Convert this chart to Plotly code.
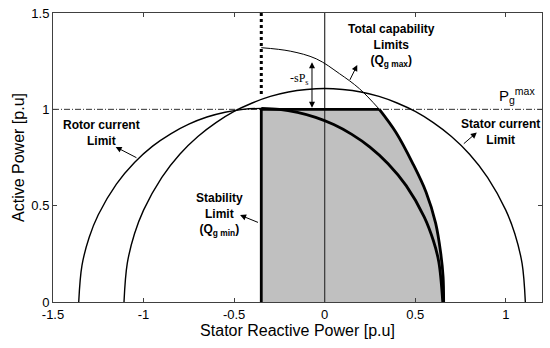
import plotly.graph_objects as go

# Values (Q = stator reactive power, P = active power, p.u.)
stator_q = [-1.108, -1.09, -1.05, -1.0, -0.9, -0.8, -0.7, -0.6, -0.5, -0.4, -0.3, -0.2, -0.1, 0.0,
            0.1, 0.2, 0.3, 0.4, 0.5, 0.6, 0.7, 0.8, 0.9, 1.0, 1.05, 1.09, 1.108]
stator_p = [0.0, 0.2, 0.354, 0.477, 0.646, 0.767, 0.859, 0.931, 0.989, 1.033, 1.067, 1.09, 1.103, 1.108,
            1.103, 1.09, 1.067, 1.033, 0.989, 0.931, 0.859, 0.767, 0.646, 0.477, 0.354, 0.2, 0.0]

rotor_left_q = [-1.358, -1.34, -1.3, -1.25, -1.15, -1.05, -0.95, -0.85, -0.75, -0.65, -0.55, -0.45, -0.35]
rotor_left_p = [0.0, 0.19, 0.336, 0.453, 0.612, 0.724, 0.809, 0.873, 0.923, 0.96, 0.985, 1.0, 1.005]
rotor_right_q = [-0.35, -0.25, -0.15, -0.05, 0.05, 0.15, 0.25, 0.35, 0.45, 0.55, 0.6, 0.63, 0.652]
rotor_right_p = [1.005, 1.0, 0.984, 0.958, 0.921, 0.87, 0.804, 0.718, 0.604, 0.441, 0.319, 0.209, 0.0]

cap_top_q = [-0.35, -0.19, -0.046, 0.082, 0.192, 0.302]
cap_top_p = [1.32, 1.302, 1.262, 1.185, 1.107, 1.0]
cap_low_q = [0.302, 0.394, 0.486, 0.56, 0.613, 0.641, 0.654, 0.657]
cap_low_p = [1.0, 0.88, 0.72, 0.57, 0.408, 0.252, 0.131, 0.0]

q_min = -0.35
p_max = 1.0
x_ticks = [-1.5, -1, -0.5, 0, 0.5, 1]
y_ticks = [0, 0.5, 1, 1.5]

fig = go.Figure()

# shaded operating region
fill_q = [q_min] + cap_low_q + [q_min]
fill_p = [p_max] + cap_low_p + [0.0]
fig.add_trace(go.Scatter(x=fill_q, y=fill_p, fill="toself", fillcolor="#c0c0c0",
                         line=dict(width=0), mode="lines", hoverinfo="skip"))

# Q = 0 axis line
fig.add_trace(go.Scatter(x=[0, 0], y=[0, 1.5], mode="lines", line=dict(color="#404040", width=1.3)))
# P max dash-dot line
fig.add_trace(go.Scatter(x=[-1.5, 1.2], y=[p_max, p_max], mode="lines",
                         line=dict(color="#303030", width=1, dash="6px,2px,1px,2px")))

# thin curves
thin = dict(color="black", width=1.4)
fig.add_trace(go.Scatter(x=stator_q, y=stator_p, mode="lines", line=dict(thin, shape="spline")))
fig.add_trace(go.Scatter(x=rotor_left_q, y=rotor_left_p, mode="lines", line=dict(thin, shape="spline")))
fig.add_trace(go.Scatter(x=cap_top_q, y=cap_top_p, mode="lines", line=dict(color="black", width=1, shape="spline")))

# thick limits
thick = dict(color="black", width=2.8)
fig.add_trace(go.Scatter(x=rotor_right_q, y=rotor_right_p, mode="lines", line=dict(thick, shape="spline")))
fig.add_trace(go.Scatter(x=cap_low_q, y=cap_low_p, mode="lines", line=dict(thick, shape="spline")))
fig.add_trace(go.Scatter(x=[q_min, q_min, 0.302], y=[0, p_max, p_max], mode="lines", line=thick))
fig.add_trace(go.Scatter(x=[q_min, q_min], y=[1.08, 1.5], mode="lines",
                         line=dict(color="black", width=3, dash="dot")))

bold = dict(family="Liberation Sans, Arial", size=12, color="black")
notes = [
    dict(x=0.37, y=1.333, text="<b>Total capability<br>Limits<br>(Q<sub>g max</sub>)</b>"),
    dict(x=0.97, y=0.88, text="<b>Stator current<br>Limit</b>"),
    dict(x=-1.23, y=0.875, text="<b>Rotor current<br>Limit</b>"),
    dict(x=-0.58, y=0.456, text="<b>Stability<br>Limit<br>(Q<sub>g min</sub>)</b>"),
]
for n in notes:
    fig.add_annotation(x=n["x"], y=n["y"], text=n["text"], showarrow=False, font=bold, align="center")

arrows = [((0.18, 1.23), (0.135, 1.145)), ((0.84, 0.88), (0.76, 0.815)),
          ((-1.154, 0.805), (-1.031, 0.745)), ((-0.467, 0.451), (-0.36, 0.41))]
for head, tail in arrows:
    fig.add_annotation(x=head[0], y=head[1], ax=tail[0], ay=tail[1], axref="x", ayref="y",
                       text="", showarrow=True, arrowhead=2, arrowsize=1.2, arrowwidth=1, arrowcolor="black")

# -sPs double arrow
fig.add_annotation(x=-0.07, y=1.245, ax=-0.07, ay=1.0, axref="x", ayref="y", text="",
                   showarrow=True, arrowhead=2, startarrowhead=2, arrowside="end+start",
                   arrowsize=1.2, arrowwidth=1, arrowcolor="black")
fig.add_annotation(x=-0.14, y=1.16, text="-sP<sub>s</sub>", showarrow=False,
                   font=dict(family="Liberation Serif, Times New Roman", size=12, color="black"))
fig.add_annotation(x=1.06, y=1.07, text="P<sub>g</sub><sup>max</sup>", showarrow=False,
                   font=dict(family="Liberation Sans, Arial", size=15, color="black"))

axis = dict(showgrid=False, zeroline=False, showline=True, linecolor="#404040", linewidth=1,
            mirror="ticks", ticks="inside", ticklen=4, tickcolor="#404040", automargin=False,
            ticklabeloverflow="allow",
            tickfont=dict(family="Liberation Sans, Arial", size=13, color="black"))
fig.update_xaxes(axis, range=[-1.5, 1.2], tickvals=x_ticks, ticktext=[str(v) for v in x_ticks],
                 title=dict(text="Stator Reactive Power [p.u]", standoff=4,
                            font=dict(family="Liberation Sans, Arial", size=16, color="black")))
fig.update_yaxes(axis, range=[0, 1.5], tickvals=y_ticks, ticktext=[str(v) for v in y_ticks],
                 title=dict(text="Active Power [p.u]", standoff=2,
                            font=dict(family="Liberation Sans, Arial", size=16, color="black")))

fig.update_layout(width=550, height=348, margin=dict(l=53, r=8, t=13, b=46),
                  plot_bgcolor="white", paper_bgcolor="white", showlegend=False)

# drop the default page margin so the figure sits at the window corner
fig.write_html("out.html", config={"displayModeBar": False},
               post_script="document.body.style.margin='0px';")
